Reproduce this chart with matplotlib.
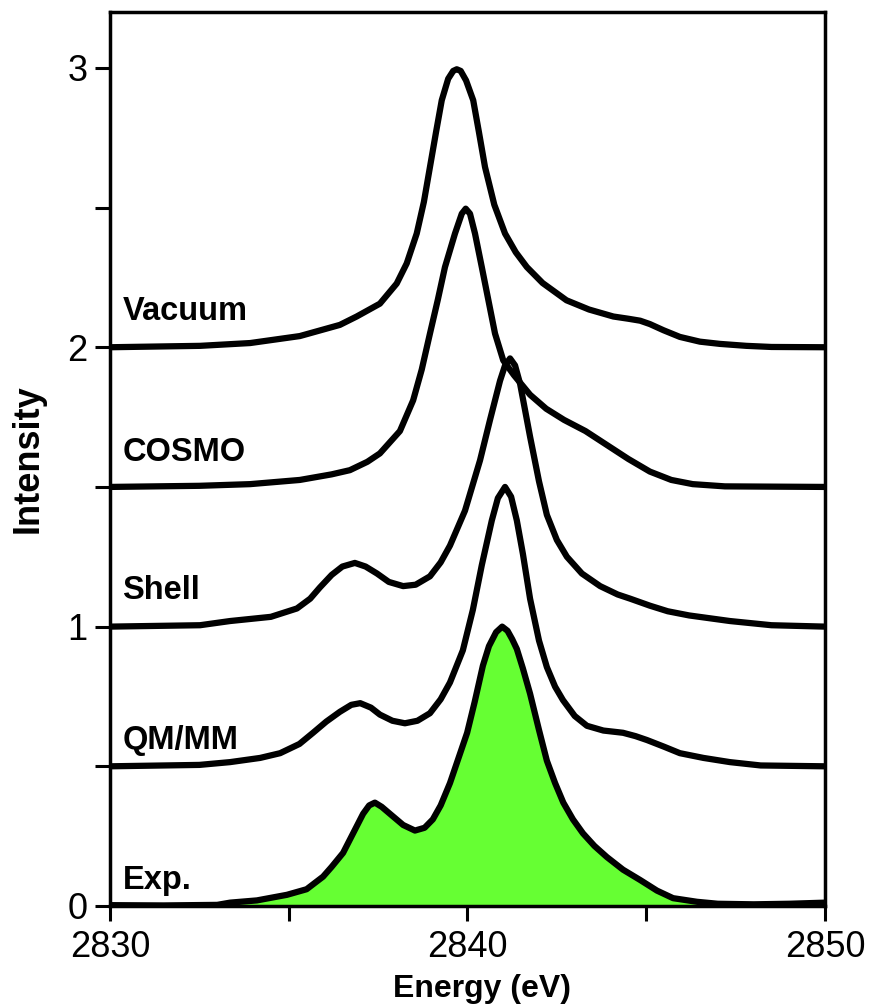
import matplotlib
matplotlib.use("Agg")
import matplotlib.pyplot as plt
from matplotlib.ticker import MultipleLocator

plt.rcParams['font.family'] = ['Liberation Sans', 'DejaVu Sans']

# ---- data (energy in eV, intensity without vertical offset) ----
exp_e = [2830.0, 2831.5, 2833.0, 2833.36, 2834.11, 2834.95, 2835.5, 2835.96, 2836.2,
         2836.52, 2836.8, 2837.08, 2837.25, 2837.41, 2837.6, 2837.83, 2838.2, 2838.53,
         2838.8, 2839.03, 2839.25, 2839.51, 2839.75, 2839.99, 2840.2, 2840.43, 2840.6,
         2840.8, 2840.97, 2841.12, 2841.25, 2841.38, 2841.55, 2841.75, 2842.0, 2842.22,
         2842.45, 2842.68, 2842.95, 2843.23, 2843.55, 2843.9, 2844.35, 2844.83, 2845.3,
         2845.75, 2846.42, 2847.0, 2848.0, 2849.0, 2850.0]
exp_i = [0.003, 0.002, 0.004, 0.012, 0.02, 0.04, 0.06, 0.105, 0.14,
         0.19, 0.26, 0.33, 0.36, 0.37, 0.355, 0.33, 0.29, 0.27,
         0.28, 0.31, 0.36, 0.44, 0.53, 0.62, 0.73, 0.86, 0.93,
         0.98, 1.0, 0.985, 0.955, 0.92, 0.85, 0.76, 0.63, 0.52,
         0.44, 0.37, 0.31, 0.26, 0.215, 0.175, 0.13, 0.093, 0.055,
         0.028, 0.015, 0.008, 0.006, 0.008, 0.012]

qmmm_e = [2830.0, 2832.5, 2833.36, 2834.2, 2834.76, 2835.3, 2835.68, 2836.05, 2836.43,
          2836.75, 2837.0, 2837.3, 2837.55, 2837.9, 2838.25, 2838.6, 2838.95, 2839.25,
          2839.51, 2839.87, 2840.15, 2840.4, 2840.68, 2840.85, 2841.05, 2841.22, 2841.38,
          2841.55, 2841.75, 2842.0, 2842.22, 2842.45, 2842.67, 2843.0, 2843.34, 2843.8,
          2844.35, 2844.7, 2845.02, 2845.5, 2845.94, 2846.6, 2847.34, 2848.2, 2850.0]
qmmm_i = [0.0, 0.005, 0.015, 0.03, 0.047, 0.08, 0.12, 0.16, 0.195,
          0.22, 0.226, 0.21, 0.185, 0.163, 0.154, 0.163, 0.19, 0.24,
          0.30, 0.415, 0.56, 0.72, 0.88, 0.96, 1.0, 0.965, 0.88,
          0.76, 0.60, 0.45, 0.355, 0.285, 0.237, 0.18, 0.145, 0.128,
          0.12, 0.108, 0.094, 0.07, 0.047, 0.03, 0.015, 0.003, 0.0]

shell_e = [2830.0, 2832.52, 2833.36, 2834.5, 2835.23, 2835.6, 2835.87, 2836.2, 2836.5,
           2836.85, 2837.15, 2837.47, 2837.8, 2838.2, 2838.55, 2838.95, 2839.25, 2839.51,
           2839.93, 2840.35, 2840.63, 2840.91, 2841.05, 2841.19, 2841.33, 2841.47, 2841.75,
           2842.0, 2842.22, 2842.5, 2842.78, 2843.2, 2843.71, 2844.2, 2844.55, 2845.1,
           2845.6, 2846.2, 2847.34, 2848.5, 2850.0]
shell_i = [0.0, 0.005, 0.02, 0.035, 0.065, 0.10, 0.14, 0.185, 0.215,
           0.228, 0.215, 0.19, 0.16, 0.145, 0.15, 0.18, 0.23, 0.29,
           0.415, 0.595, 0.74, 0.88, 0.935, 0.96, 0.935, 0.87, 0.68,
           0.52, 0.40, 0.31, 0.25, 0.19, 0.145, 0.115, 0.10, 0.075,
           0.055, 0.04, 0.02, 0.005, 0.0]

cosmo_e = [2830.0, 2832.5, 2833.92, 2835.31, 2836.2, 2836.71, 2837.2, 2837.55, 2838.11,
           2838.48, 2838.72, 2838.95, 2839.17, 2839.37, 2839.65, 2839.84, 2839.95, 2840.07,
           2840.21, 2840.4, 2840.77, 2841.0, 2841.3, 2841.75, 2842.2, 2842.7, 2843.3,
           2843.9, 2844.5, 2845.1, 2845.7, 2846.3, 2847.2, 2850.0]
cosmo_i = [0.0, 0.004, 0.01, 0.025, 0.045, 0.06, 0.09, 0.12, 0.20,
           0.31, 0.42, 0.549, 0.67, 0.787, 0.907, 0.978, 0.996, 0.978,
           0.907, 0.787, 0.549, 0.453, 0.40, 0.33, 0.28, 0.24, 0.20,
           0.15, 0.10, 0.055, 0.025, 0.01, 0.002, 0.0]

vac_e = [2830.0, 2832.52, 2833.92, 2835.31, 2836.43, 2836.9, 2837.55, 2838.02, 2838.3,
         2838.58, 2838.78, 2838.95, 2839.12, 2839.28, 2839.46, 2839.6, 2839.7, 2839.81,
         2839.96, 2840.16, 2840.32, 2840.49, 2840.75, 2841.05, 2841.35, 2841.66, 2842.1,
         2842.77, 2843.4, 2844.08, 2844.5, 2844.83, 2845.1, 2845.48, 2845.94, 2846.5,
         2847.06, 2847.8, 2848.5, 2850.0]
vac_i = [0.0, 0.005, 0.015, 0.04, 0.08, 0.11, 0.156, 0.228, 0.30,
         0.407, 0.52, 0.645, 0.77, 0.884, 0.961, 0.989, 0.995, 0.989,
         0.955, 0.884, 0.77, 0.645, 0.51, 0.407, 0.34, 0.287, 0.23,
         0.168, 0.135, 0.11, 0.102, 0.095, 0.083, 0.061, 0.037, 0.02,
         0.012, 0.005, 0.001, 0.0]

series_names = ["Exp.", "QM/MM", "Shell", "COSMO", "Vacuum"]
offsets = [0.0, 0.5, 1.0, 1.5, 2.0]
label_y = [0.093, 0.594, 1.13, 1.624, 2.129]

x_ticks = [2830, 2840, 2850]
y_ticks = [0, 1, 2, 3]

fig = plt.figure(figsize=(8.7, 10.08), dpi=100)
ax = fig.add_axes([0.1264, 0.1012, 0.8219, 0.8869])

energies = [exp_e, qmmm_e, shell_e, cosmo_e, vac_e]
intens = [exp_i, qmmm_i, shell_i, cosmo_i, vac_i]

# experimental fill
ax.fill_between(exp_e, 0, exp_i, color='#66ff33', lw=0, zorder=1)

for e, i, off in zip(energies, intens, offsets):
    ax.plot(e, [v + off for v in i], color='black', lw=4.5,
            solid_joinstyle='round', solid_capstyle='round', zorder=3)

for name, ly in zip(series_names, label_y):
    ax.text(2830.35, ly, name, fontsize=23.5, fontweight='bold',
            ha='left', va='center', zorder=4)

ax.set_xlim(2830, 2850)
ax.set_ylim(0, 3.2)
ax.set_xticks(x_ticks)
ax.set_yticks(y_ticks)
ax.xaxis.set_minor_locator(MultipleLocator(5))
ax.yaxis.set_minor_locator(MultipleLocator(0.5))
ax.tick_params(which='both', direction='out', length=11, width=2.2,
               labelsize=26, top=False, right=False)
ax.tick_params(axis='x', pad=6)
ax.tick_params(axis='y', pad=5)
for sp in ax.spines.values():
    sp.set_linewidth(2.5)

ax.set_xlabel("Energy (eV)", fontsize=23, fontweight='bold')
ax.set_ylabel("Intensity", fontsize=26, fontweight='bold')
ax.xaxis.set_label_coords(0.52, -0.076)
ax.yaxis.set_label_coords(-0.09, 0.5)

fig.savefig("out.png", dpi=100)
